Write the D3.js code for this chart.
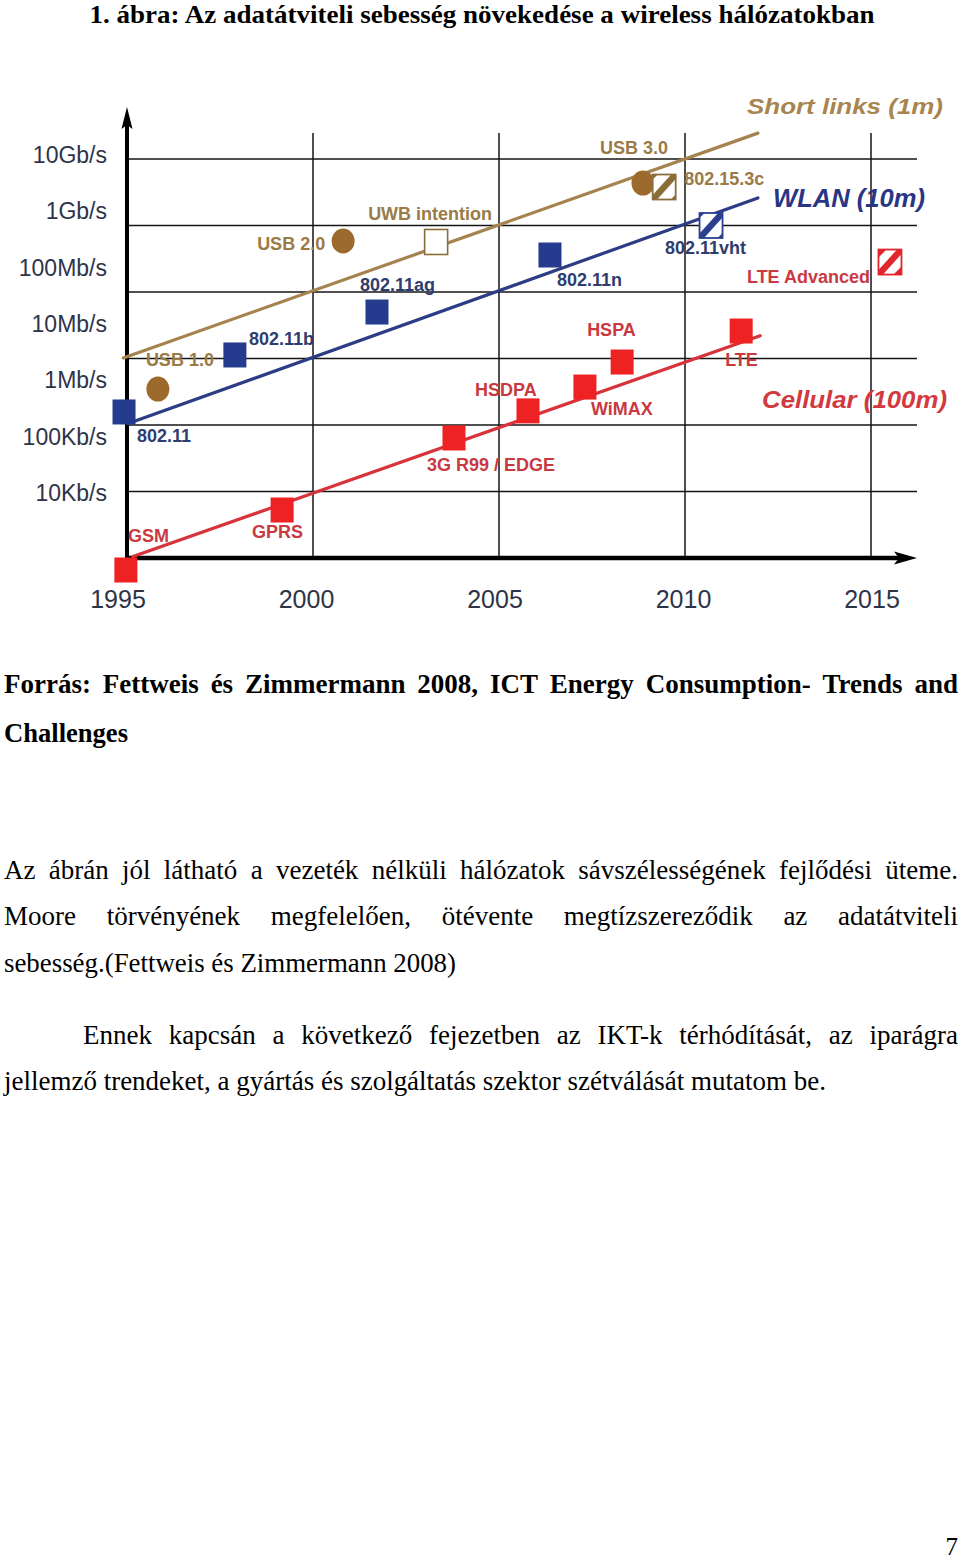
<!DOCTYPE html>
<html><head><meta charset="utf-8">
<script src="https://cdn.jsdelivr.net/npm/d3@7"></script>
<style>html,body{margin:0;padding:0;background:#fff;} svg{display:block;}</style>
</head><body>
<svg id="c" width="960" height="1561"></svg>
<script>
// ---------- data ----------
const yearTicks = [1995, 2000, 2005, 2010, 2015];
const rateTickLabels = ["10Gb/s","1Gb/s","100Mb/s","10Mb/s","1Mb/s","100Kb/s","10Kb/s"];
const gridRates = [1e5, 1e6, 1e7, 1e8, 1e9, 1e10];

const shortNames = ["USB 1.0","USB 2.0","UWB intention","USB 3.0","802.15.3c"];
const shortYears = [1995.83, 2000.81, 2003.31, 2008.87, 2009.44];
const shortRates = [3.47e6, 5.85e8, 5.65e8, 4.35e9, 3.79e9];
const shortKinds = ["circle","circle","hollow","circle","hatched"];

const wlanNames = ["802.11","802.11b","802.11ag","802.11n","802.11vht"];
const wlanYears = [1994.92, 1997.90, 2001.72, 2006.37, 2010.70];
const wlanRates = [1.57e6, 1.13e7, 5.0e7, 3.6e8, 1.0e9];
const wlanKinds = ["square","square","square","square","hatched"];

const cellNames = ["GSM","GPRS","3G R99 / EDGE","HSDPA","WiMAX","HSPA","LTE","LTE Advanced"];
const cellYears = [1994.97, 1999.17, 2003.79, 2005.78, 2007.31, 2008.31, 2011.51, 2015.51];
const cellRates = [6.6e3, 5.27e4, 6.38e5, 1.63e6, 3.72e6, 8.85e6, 2.59e7, 2.82e8];
const cellKinds = ["square","square","square","square","square","square","square","hatched"];

const shortTrend = [[1994.9, 1.02e7], [2011.96, 2.45e10]];
const wlanTrend  = [[1995.03, 1.05e6], [2011.96, 2.6e9]];
const cellTrend  = [[1995.16, 1.05e4], [2012.02, 2.2e7]];

const seriesTitles = ["Short links (1m)", "WLAN (10m)", "Cellular (100m)"];

// ---------- layout (label offsets from marker centre, px) ----------
const labelOffsets = {
  "USB 1.0":[-12,-23], "USB 2.0":[-86,9], "UWB intention":[-68,-22], "USB 3.0":[-43,-29], "802.15.3c":[20,-2],
  "802.11":[13,30], "802.11b":[14,-10], "802.11ag":[-17,-21], "802.11n":[7,31], "802.11vht":[-46,28],
  "GSM":[2,-28], "GPRS":[-30,28], "3G R99 / EDGE":[-27,33], "HSDPA":[-53,-15], "WiMAX":[6,28],
  "HSPA":[-35,-26], "LTE":[-16,35], "LTE Advanced":[-143,21]
};
const titleLayout = [
  {x:747, y:114, size:22, w:196},
  {x:773, y:207, size:25, w:152},
  {x:762, y:408, size:23, w:185}
];

const svg = d3.select("#c");
const x = d3.scaleLinear().domain([1995, 2015]).range([127, 871]);
const y = d3.scaleLog().domain([1e4, 1e10]).range([558, 159]);
const yLab = d3.scalePoint().domain(rateTickLabels).range([163, 501]);
const xLab = d3.scaleLinear().domain([1995, 2015]).range([118, 872]);
const plotTop = 133, plotRight = 917;

const C = {
  short:{line:"#a5834f", mark:"#9c6a2c", text:"#9a7b48", title:"#a8844e"},
  wlan:{line:"#2c3c85", mark:"#243b8e", text:"#2f3d6e", title:"#2a3584"},
  cell:{line:"#d8333a", mark:"#ee2222", text:"#c9393f", title:"#d23a40"}
};

const sans = "'Liberation Sans', Arial, sans-serif";
const serif = "'Liberation Serif', 'Times New Roman', serif";

// gridlines
const grid = svg.append("g").attr("stroke", "#151515").attr("stroke-width", 1.5);
grid.selectAll("line.h").data(gridRates).join("line")
  .attr("x1", x(1995)).attr("x2", plotRight)
  .attr("y1", d => y(d)).attr("y2", d => y(d));
grid.selectAll("line.v").data(yearTicks.slice(1)).join("line")
  .attr("x1", d => x(d)).attr("x2", d => x(d))
  .attr("y1", plotTop).attr("y2", y(1e4));

// axes
const ax = svg.append("g");
ax.append("line").attr("x1", x(1995)).attr("x2", x(1995)).attr("y1", y(1e4) + 2).attr("y2", 124)
  .attr("stroke", "#000").attr("stroke-width", 4);
ax.append("path").attr("d", `M${x(1995)},107 L${x(1995)-5.5},129 L${x(1995)},125 L${x(1995)+5.5},129 Z`).attr("fill", "#000");
ax.append("line").attr("x1", x(1995) - 2).attr("x2", 902).attr("y1", y(1e4)).attr("y2", y(1e4))
  .attr("stroke", "#000").attr("stroke-width", 4.5);
ax.append("path").attr("d", `M917,${y(1e4)} L894,${y(1e4)-6.5} L899,${y(1e4)} L894,${y(1e4)+6.5} Z`).attr("fill", "#000");

// tick labels
svg.append("g").selectAll("text").data(rateTickLabels).join("text")
  .attr("x", 107).attr("y", d => yLab(d)).attr("text-anchor", "end")
  .attr("font-family", sans).attr("font-size", 23).attr("fill", "#2e3447").text(d => d);
svg.append("g").selectAll("text").data(yearTicks).join("text")
  .attr("x", d => xLab(d)).attr("y", 608).attr("text-anchor", "middle")
  .attr("font-family", sans).attr("font-size", 25).attr("fill", "#2e3447").text(d => d);

// series
const series = [
  {key:"short", names:shortNames, years:shortYears, rates:shortRates, kinds:shortKinds, trend:shortTrend},
  {key:"wlan", names:wlanNames, years:wlanYears, rates:wlanRates, kinds:wlanKinds, trend:wlanTrend},
  {key:"cell", names:cellNames, years:cellYears, rates:cellRates, kinds:cellKinds, trend:cellTrend}
];
series.forEach(s => {
  s.pts = s.names.map((n, i) => ({name:n, year:s.years[i], rate:s.rates[i], kind:s.kinds[i]}));
});

// point labels (below lines)
series.forEach(s => {
  svg.append("g").selectAll("text").data(s.pts).join("text")
    .attr("x", d => x(d.year) + labelOffsets[d.name][0])
    .attr("y", d => y(d.rate) + labelOffsets[d.name][1])
    .attr("font-family", sans).attr("font-weight", "bold").attr("font-size", 18)
    .attr("fill", C[s.key].text).text(d => d.name);
});

// trend lines
const lineGen = d3.line().x(d => x(d[0])).y(d => y(d[1]));
series.forEach(s => {
  svg.append("path").attr("d", lineGen(s.trend)).attr("fill", "none")
    .attr("stroke", C[s.key].line).attr("stroke-width", 3.2).attr("stroke-linecap", "round");
});

// markers
const W = 23, H = 25;
series.forEach(s => {
  const col = C[s.key].mark;
  const g = svg.append("g");
  s.pts.forEach(d => {
    const cx = x(d.year), cy = y(d.rate);
    const x0 = cx - W/2, y0 = cy - H/2;
    if (d.kind === "circle") {
      g.append("ellipse").attr("cx", cx).attr("cy", cy).attr("rx", 11.5).attr("ry", 12.5).attr("fill", col);
    } else if (d.kind === "square") {
      g.append("rect").attr("x", x0).attr("y", y0).attr("width", W).attr("height", H).attr("fill", col);
    } else if (d.kind === "hollow") {
      g.append("rect").attr("x", x0).attr("y", y0).attr("width", W).attr("height", H)
        .attr("fill", "#fff").attr("stroke", "#8c6d3a").attr("stroke-width", 1.6);
    } else {
      const hc = s.key === "short" ? "#8c6d3a" : s.key === "wlan" ? "#2a3f8f" : "#e0262c";
      g.append("rect").attr("x", x0).attr("y", y0).attr("width", W).attr("height", H)
        .attr("fill", "#fff").attr("stroke", hc).attr("stroke-width", 1.8);
      const dd = 4.5, t = s.key === "cell" ? 8 : 5;
      g.append("polygon").attr("fill", hc).attr("points", [
        [x0, y0+H-dd], [x0+W-dd, y0], [x0+W, y0], [x0+W, y0+dd], [x0+dd, y0+H], [x0, y0+H]
      ].join(" "));
      g.append("polygon").attr("fill", hc).attr("points", [[x0,y0],[x0+t,y0],[x0,y0+t]].join(" "));
      g.append("polygon").attr("fill", hc).attr("points", [[x0+W,y0+H],[x0+W-t,y0+H],[x0+W,y0+H-t]].join(" "));
    }
  });
});

// series titles
svg.append("g").selectAll("text").data(seriesTitles).join("text")
  .attr("x", (d, i) => titleLayout[i].x).attr("y", (d, i) => titleLayout[i].y)
  .attr("font-size", (d, i) => titleLayout[i].size)
  .attr("textLength", (d, i) => titleLayout[i].w).attr("lengthAdjust", "spacingAndGlyphs")
  .attr("font-family", sans).attr("font-weight", "bold").attr("font-style", "italic")
  .attr("fill", (d, i) => [C.short.title, C.wlan.title, C.cell.title][i]).text(d => d);

// ---------- page text ----------
function plain(str, x0, yb, w, bold, anchor, size) {
  const t = svg.append("text").attr("x", x0).attr("y", yb)
    .attr("font-family", serif).attr("font-size", size || 27)
    .attr("font-weight", bold ? "bold" : "normal").attr("fill", "#000").text(str);
  if (anchor) t.attr("text-anchor", anchor);
  if (w) t.attr("textLength", w).attr("lengthAdjust", "spacingAndGlyphs");
  return t;
}
function justify(str, x0, x1, yb, bold) {
  const words = str.split(" ");
  const g = svg.append("g");
  const nodes = words.map(w => g.append("text").attr("y", yb)
    .attr("font-family", serif).attr("font-size", 27)
    .attr("font-weight", bold ? "bold" : "normal").attr("fill", "#000").text(w));
  const widths = nodes.map(n => n.node().getComputedTextLength());
  const sum = d3.sum(widths);
  const minGap = 8;
  let gap = (x1 - x0 - sum) / (words.length - 1), sc = 1;
  if (gap < minGap) { sc = (x1 - x0 - minGap * (words.length - 1)) / sum; gap = minGap; }
  let cx = x0;
  nodes.forEach((n, i) => {
    n.attr("x", cx);
    if (sc !== 1) n.attr("textLength", widths[i] * sc).attr("lengthAdjust", "spacingAndGlyphs");
    cx += widths[i] * sc + gap;
  });
}

svg.append("text").attr("x", 482).attr("y", 23).attr("text-anchor", "middle")
  .attr("font-family", serif).attr("font-size", 25).attr("font-weight", "bold")
  .attr("textLength", 785).attr("lengthAdjust", "spacingAndGlyphs")
  .text("1. ábra: Az adatátviteli sebesség növekedése a wireless hálózatokban");

justify("Forrás: Fettweis és Zimmermann 2008, ICT Energy Consumption- Trends and", 4, 958, 693, true);
plain("Challenges", 4, 742, 124, true);
justify("Az ábrán jól látható a vezeték nélküli hálózatok sávszélességének fejlődési üteme.", 4, 958, 879, false);
justify("Moore törvényének megfelelően, ötévente megtízszereződik az adatátviteli", 4, 958, 925, false);
plain("sebesség.(Fettweis és Zimmermann 2008)", 4, 972, 452, false);
justify("Ennek kapcsán a következő fejezetben az IKT-k térhódítását, az iparágra", 83, 958, 1044, false);
plain("jellemző trendeket, a gyártás és szolgáltatás szektor szétválását mutatom be.", 4, 1090, 822, false);
plain("7", 958, 1555, null, false, "end", 25);
</script>
</body></html>
